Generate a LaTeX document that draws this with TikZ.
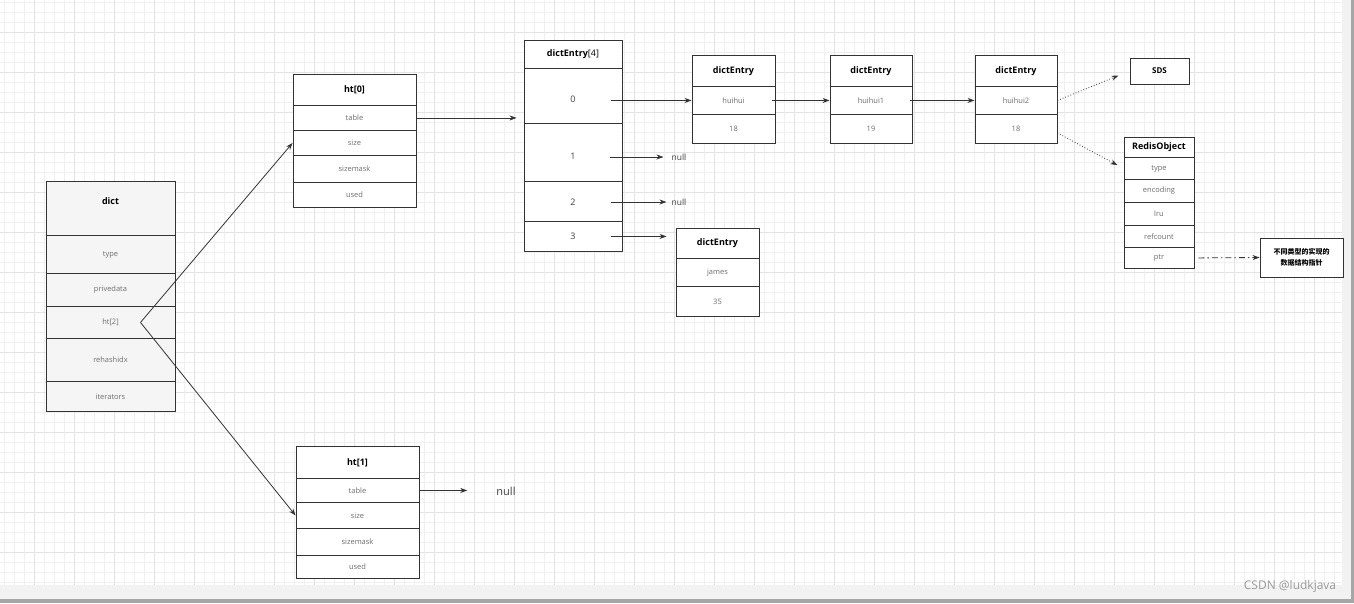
\documentclass[tikz,border=0pt]{standalone}
\usepackage{fontspec}
\setmainfont{Open Sans}
\newfontfamily\cjk{Noto Sans CJK SC}
\usetikzlibrary{arrows.meta, positioning}
\definecolor{boxline}{HTML}{333333}
\definecolor{rowtext}{HTML}{6E6E6E}
\definecolor{gridminor}{HTML}{F0F0F0}
\definecolor{gridmajor}{HTML}{E3E3E3}

\begin{document}
\begin{tikzpicture}[
        x=1pt, y=-1pt,
        >={Stealth[length=7pt,width=5pt]},
        cell/.style={draw=boxline, line width=0.9pt, fill=white, inner sep=0pt, anchor=north, font=\fontsize{7.5}{9}\selectfont, text=rowtext},
        head/.style={cell, font=\fontsize{9}{11}\selectfont\bfseries, text=black},
        idx/.style={cell, font=\fontsize{9}{11}\selectfont, text=black!75, text height=14pt, text depth=0pt},
        nullnote/.style={inner sep=1pt, font=\fontsize{8.5}{10}\selectfont, text=black!75},
        link/.style={->, line width=0.8pt, draw=boxline},
        dotlink/.style={link, dotted},
        dashdotlink/.style={link, dash pattern=on 6pt off 3pt on 1.5pt off 3pt}
    ]
    \useasboundingbox (0,0) rectangle (1354,603);
    % --- Canvas: grid paper ---
    \fill[white] (0,0) rectangle (1354,603);
    \foreach \gx in {4,14,...,1334} \draw[gridminor, line width=0.8pt] (\gx,0) -- (\gx,585);
    \foreach \gy in {2,12,...,582} \draw[gridminor, line width=0.8pt] (0,\gy) -- (1342,\gy);
    \foreach \gx in {34,74,...,1314} \draw[gridmajor, line width=0.8pt] (\gx,0) -- (\gx,585);
    \foreach \gy in {32,72,...,572} \draw[gridmajor, line width=0.8pt] (0,\gy) -- (1342,\gy);
    \fill[black!5] (1342,0) rectangle (1354,603);
    \fill[black!5] (0,585) rectangle (1354,603);
    \fill[black!35] (1351,0) rectangle (1354,603);
    \fill[black!35] (0,599) rectangle (1354,603);

    % --- dict ---
    \node[head, fill=black!4, text depth=14pt, minimum width=129, minimum height=54] (dict) at (110.5,181) {dict};
    \node[cell, fill=black!4, minimum width=129, minimum height=38] (dtype) at (110.5,235) {type};
    \node[cell, fill=black!4, minimum width=129, minimum height=33] (dpriv) at (110.5,273) {privedata};
    \node[cell, fill=black!4, minimum width=129, minimum height=32] (dht) at (110.5,306) {ht[2]};
    \node[cell, fill=black!4, minimum width=129, minimum height=43] (drehash) at (110.5,338) {rehashidx};
    \node[cell, fill=black!4, minimum width=129, minimum height=30] (diter) at (110.5,381) {iterators};

    % --- ht[0] ---
    \node[head, minimum width=123, minimum height=31] (h0) at (354.5,74) {ht[0]};
    \node[cell, minimum width=123, minimum height=25] (h0table) at (354.5,105) {table};
    \node[cell, minimum width=123, minimum height=25] (h0size) at (354.5,130) {size};
    \node[cell, minimum width=123, minimum height=27] (h0mask) at (354.5,155) {sizemask};
    \node[cell, minimum width=123, minimum height=25] (h0used) at (354.5,182) {used};

    % --- ht[1] ---
    \node[head, minimum width=123, minimum height=32] (h1) at (357.5,446) {ht[1]};
    \node[cell, minimum width=123, minimum height=24] (h1table) at (357.5,478) {table};
    \node[cell, minimum width=123, minimum height=26] (h1size) at (357.5,502) {size};
    \node[cell, minimum width=123, minimum height=27] (h1mask) at (357.5,528) {sizemask};
    \node[cell, minimum width=123, minimum height=23] (h1used) at (357.5,555) {used};
    \node[nullnote, font=\fontsize{11}{13}\selectfont] (null3) at (506,491) {null};

    % --- dictEntry[4] table ---
    \node[head, minimum width=98, minimum height=28] (arr) at (573,40) {dictEntry\mdseries[4]};
    \node[idx, minimum width=98, minimum height=55] (a0) at (573,68) {0};
    \node[idx, minimum width=98, minimum height=58] (a1) at (573,123) {1};
    \node[idx, text height=9pt, minimum width=98, minimum height=40] (a2) at (573,181) {2};
    \node[idx, text height=7pt, minimum width=98, minimum height=30] (a3) at (573,221) {3};
    \node[nullnote] (null1) at (679,157) {null};
    \node[nullnote] (null2) at (679,202) {null};

    % --- chain of entries ---
    \node[head, minimum width=83, minimum height=31] (e1) at (733.5,55) {dictEntry};
    \node[cell, minimum width=83, minimum height=28] (e1key) at (733.5,86) {huihui};
    \node[cell, minimum width=83, minimum height=29] (e1val) at (733.5,114) {18};
    \node[head, minimum width=82, minimum height=31] (e2) at (871,55) {dictEntry};
    \node[cell, minimum width=82, minimum height=28] (e2key) at (871,86) {huihui1};
    \node[cell, minimum width=82, minimum height=29] (e2val) at (871,114) {19};
    \node[head, minimum width=82, minimum height=31] (e3) at (1016,55) {dictEntry};
    \node[cell, minimum width=82, minimum height=28] (e3key) at (1016,86) {huihui2};
    \node[cell, minimum width=82, minimum height=29] (e3val) at (1016,114) {18};

    % --- entry in slot 3 ---
    \node[head, minimum width=83, minimum height=30] (jtitle) at (717.5,228) {dictEntry};
    \node[cell, minimum width=83, minimum height=28] (jkey) at (717.5,258) {james};
    \node[cell, minimum width=83, minimum height=30] (jval) at (717.5,286) {35};

    % --- value objects ---
    \node[head, anchor=center, font=\fontsize{8}{10}\selectfont\bfseries, minimum width=59, minimum height=26] (sds) at (1159.5,71) {SDS};
    \node[head, minimum width=70, minimum height=20] (robj) at (1159,137) {RedisObject};
    \node[cell, minimum width=70, minimum height=22] (rtype) at (1159,157) {type};
    \node[cell, minimum width=70, minimum height=23] (renc) at (1159,179) {encoding};
    \node[cell, minimum width=70, minimum height=23] (rlru) at (1159,202) {lru};
    \node[cell, minimum width=70, minimum height=22] (rref) at (1159,225) {refcount};
    \node[cell, minimum width=70, minimum height=21] (rptr) at (1159,247) {ptr};
    \node[head, anchor=center, align=center, font=\fontsize{7}{10.5}\selectfont\cjk\bfseries, minimum width=83, minimum height=39] (note) at (1301.5,257.5) {不同类型的实现的\\数据结构指针};

    % --- Arrows ---
    \draw[link] ([xshift=30pt]dht.center) -- (h0size.west);
    \draw[link] ([xshift=30pt]dht.center) -- (h1size.west);
    \draw[link, shorten >=7pt] (h0table.east) -- (h0table.east -| a0.west);
    \draw[link, shorten >=28pt] (h1table.east) -- (h1table.east -| null3.west);
    \draw[link, shorten <=-11pt] (a0.east |- e1key.west) -- (e1key.west);
    \draw[link, shorten <=-12pt, shorten >=7pt] (a1.east |- null1.west) -- (null1.west);
    \draw[link, shorten <=-11pt, shorten >=4pt] (a2.east |- null2.west) -- (null2.west);
    \draw[link, shorten <=-11pt, shorten >=9pt] (a3.east) -- (a3.east -| jtitle.west);
    \draw[link, shorten <=-3pt] (e1key.east) -- (e2key.west);
    \draw[link, shorten <=-2pt] (e2key.east) -- (e3key.west);
    \draw[dotlink, shorten >=12pt] (e3key.east) -- (sds.west);
    \draw[dotlink, shorten >=7pt] ([yshift=-4pt]e3val.east) -- (rtype.west);
    \draw[dashdotlink, shorten <=4pt] (rptr.east) -- (note.west);

    % --- watermark ---
    \node[font=\fontsize{12}{14}\selectfont, text=black!40] (mark) at (1290,586) {CSDN @ludkjava};
\end{tikzpicture}
\end{document}
